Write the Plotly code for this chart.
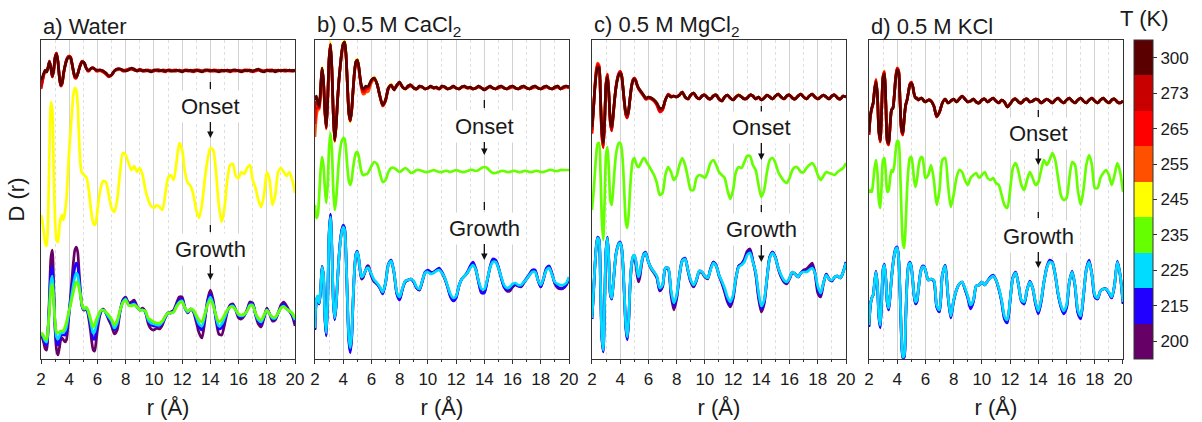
import plotly.graph_objects as go

# ---------------- data (arbitrary D(r) units, curves stacked as in the figure) ----------------
R = [2.0, 2.1, 2.2, 2.3, 2.4, 2.5, 2.6, 2.7, 2.8, 2.9,
     3.0, 3.1, 3.2, 3.3, 3.4, 3.5, 3.6, 3.7, 3.8, 3.9,
     4.0, 4.1, 4.2, 4.3, 4.4, 4.5, 4.6, 4.7, 4.8, 4.9,
     5.0, 5.1, 5.2, 5.3, 5.4, 5.5, 5.6, 5.7, 5.8, 5.9,
     6.0, 6.2, 6.4, 6.6, 6.8, 7.0, 7.2, 7.4, 7.6, 7.8,
     8.0, 8.2, 8.4, 8.6, 8.8, 9.0, 9.2, 9.4, 9.6, 9.8,
     10.0, 10.2, 10.4, 10.6, 10.8, 11.0, 11.2, 11.4, 11.6, 11.8,
     12.0, 12.2, 12.4, 12.6, 12.8, 13.0, 13.2, 13.4, 13.6, 13.8,
     14.0, 14.2, 14.4, 14.6, 14.8, 15.0, 15.2, 15.4, 15.6, 15.8,
     16.0, 16.2, 16.4, 16.6, 16.8, 17.0, 17.2, 17.4, 17.6, 17.8,
     18.0, 18.2, 18.4, 18.6, 18.8, 19.0, 19.2, 19.4, 19.6, 19.8,
     20.0]

TEMPS = ["200", "215", "225", "235", "245", "255", "265", "273", "300"]
X_TICKS = [2, 4, 6, 8, 10, 12, 14, 16, 18, 20]
PANEL_TITLES = ["a) Water", "b) 0.5 M CaCl<sub>2</sub>", "c) 0.5 M MgCl<sub>2</sub>", "d) 0.5 M KCl"]

# ---- a) Water ----
A200 = [24, 21, 16, 10, 9, 29, 64, 101, 109, 74,
        29, 9, 4, 11, 19, 21, 19, 17, 19, 31,
        47, 64, 81, 97, 109, 112, 107, 87, 67, 53,
        49, 49, 51, 47, 39, 29, 17, 9, 8, 17,
        29, 45, 50, 46, 39, 33, 25, 29, 47, 59,
        62, 56, 57, 59, 53, 49, 51, 47, 35, 30,
        29, 31, 30, 34, 41, 46, 47, 49, 56, 62,
        62, 51, 46, 50, 47, 37, 26, 21, 37, 59,
        69, 59, 39, 25, 24, 34, 47, 54, 55, 49,
        41, 40, 43, 49, 57, 56, 44, 35, 32, 41,
        51, 45, 38, 39, 46, 54, 57, 53, 48, 43,
        33]
A215 = [25, 23, 19, 15, 14, 30, 57, 86, 93, 66,
        33, 17, 14, 18, 23, 24, 24, 24, 27, 36,
        48, 60, 72, 83, 92, 96, 93, 79, 65, 54,
        50, 50, 51, 48, 42, 35, 26, 20, 20, 27,
        35, 46, 50, 46, 41, 36, 29, 34, 48, 58,
        61, 55, 55, 57, 52, 49, 50, 47, 38, 34,
        33, 33, 33, 36, 42, 46, 46, 48, 54, 59,
        60, 51, 47, 50, 48, 40, 32, 29, 41, 57,
        65, 56, 41, 30, 31, 39, 48, 53, 54, 49,
        43, 42, 44, 49, 55, 55, 45, 38, 35, 42,
        50, 45, 40, 40, 46, 52, 55, 51, 48, 44,
        37]
A225 = [26, 24, 21, 18, 17, 30, 53, 77, 83, 61,
        35, 22, 20, 23, 26, 26, 27, 28, 32, 40,
        48, 57, 66, 75, 82, 86, 84, 75, 64, 54,
        50, 50, 51, 49, 44, 38, 31, 26, 27, 33,
        38, 47, 49, 46, 42, 38, 31, 36, 48, 57,
        60, 54, 54, 55, 52, 49, 49, 47, 39, 36,
        35, 34, 34, 37, 42, 46, 46, 47, 53, 57,
        58, 51, 47, 50, 48, 42, 35, 33, 43, 55,
        62, 55, 42, 33, 35, 41, 48, 52, 53, 49,
        44, 43, 44, 48, 54, 54, 45, 39, 37, 43,
        49, 45, 41, 41, 46, 51, 53, 50, 48, 45,
        39]
A235 = [26, 25, 23, 20, 20, 31, 49, 69, 75, 57,
        37, 27, 26, 27, 28, 28, 29, 32, 37, 43,
        49, 54, 61, 67, 73, 77, 76, 70, 63, 55,
        51, 51, 52, 50, 46, 41, 36, 32, 34, 39,
        42, 48, 49, 47, 44, 40, 34, 39, 49, 56,
        59, 54, 53, 54, 52, 49, 49, 48, 41, 39,
        37, 36, 36, 38, 43, 46, 46, 47, 52, 56,
        57, 51, 48, 50, 49, 44, 39, 37, 45, 54,
        59, 53, 44, 37, 39, 44, 49, 52, 52, 49,
        45, 44, 45, 48, 53, 53, 46, 41, 39, 44,
        49, 45, 42, 42, 46, 51, 52, 50, 48, 46,
        41]
A245 = [144, 137, 127, 116, 113, 139, 209, 257, 249, 189,
        139, 119, 117, 131, 141, 144, 139, 147, 159, 184,
        209, 229, 249, 265, 271, 269, 254, 219, 194, 186,
        185, 183, 182, 177, 167, 154, 143, 136, 134, 137,
        149, 169, 178, 177, 164, 151, 147, 159, 187, 206,
        204, 196, 189, 193, 187, 191, 184, 169, 159, 153,
        151, 154, 152, 149, 164, 181, 184, 179, 197, 216,
        209, 187, 176, 173, 164, 149, 141, 154, 179, 199,
        211, 209, 187, 154, 137, 151, 179, 194, 195, 183,
        181, 187, 185, 191, 194, 179, 171, 159, 152, 164,
        187, 179, 154, 164, 187, 191, 187, 183, 187, 179,
        166]
A255 = [271, 278, 284, 288, 288, 291, 297, 292, 283, 288,
        301, 305, 298, 283, 274, 276, 285, 292, 298, 301,
        302, 302, 296, 288, 282, 282, 285, 290, 294, 297,
        297, 295, 291, 289, 289, 290, 291, 291, 290, 289,
        288, 288, 287, 286, 283, 284, 288, 289, 290, 289,
        289, 289, 290, 289, 289, 289, 288, 289, 289, 288,
        289, 288, 288, 289, 289, 288, 288, 289, 289, 288,
        288, 289, 288, 288, 289, 289, 288, 288, 289, 288,
        288, 289, 289, 288, 288, 289, 288, 289, 288, 288,
        289, 288, 288, 289, 289, 288, 288, 289, 288, 288,
        289, 289, 288, 288, 289, 288, 289, 289, 288, 288,
        289]
A265 = [270, 277, 284, 288, 288, 292, 298, 292, 282, 288,
        302, 306, 298, 282, 273, 275, 285, 293, 299, 302,
        303, 302, 295, 287, 281, 281, 285, 290, 295, 298,
        297, 295, 291, 288, 288, 290, 291, 291, 290, 288,
        288, 289, 287, 285, 282, 284, 288, 290, 290, 288,
        289, 290, 290, 289, 288, 289, 289, 288, 289, 288,
        288, 289, 289, 288, 288, 289, 288, 289, 288, 289,
        288, 289, 289, 288, 288, 288, 289, 288, 288, 289,
        289, 288, 288, 289, 288, 288, 289, 288, 288, 289,
        288, 288, 289, 289, 288, 288, 288, 289, 289, 288,
        288, 289, 289, 288, 288, 289, 288, 288, 289, 288,
        288]
A273 = [272, 279, 285, 288, 287, 292, 298, 291, 282, 289,
        302, 306, 297, 282, 273, 276, 286, 293, 299, 302,
        303, 301, 295, 287, 282, 281, 285, 290, 295, 297,
        297, 295, 291, 289, 288, 290, 291, 291, 290, 289,
        288, 289, 288, 285, 283, 284, 288, 290, 290, 288,
        288, 290, 290, 289, 288, 290, 288, 288, 289, 288,
        288, 289, 289, 288, 287, 289, 289, 288, 288, 289,
        288, 288, 289, 288, 287, 289, 289, 288, 288, 289,
        288, 288, 289, 288, 288, 289, 288, 287, 289, 288,
        289, 288, 288, 289, 288, 287, 289, 289, 288, 288,
        289, 288, 288, 289, 288, 289, 288, 289, 288, 289,
        288]
A300 = [279, 282, 286, 289, 287, 291, 297, 291, 283, 289,
        301, 305, 297, 283, 274, 277, 286, 293, 298, 301,
        302, 301, 295, 288, 283, 282, 285, 290, 294, 297,
        297, 295, 291, 289, 289, 290, 291, 291, 290, 289,
        289, 289, 288, 286, 283, 284, 288, 290, 290, 289,
        288, 289, 291, 290, 288, 289, 288, 289, 288, 287,
        289, 289, 288, 289, 288, 289, 288, 288, 289, 288,
        287, 289, 288, 289, 288, 289, 288, 287, 289, 289,
        288, 289, 288, 287, 289, 288, 289, 288, 289, 289,
        288, 287, 289, 288, 289, 288, 289, 290, 288, 287,
        289, 288, 289, 287, 289, 288, 289, 288, 289, 288,
        289]

# ---- b) 0.5 M CaCl2 ----
B200 = [30, 58, 62, 55, 68, 92, 83, 42, 24, 58,
        124, 144, 110, 58, 40, 53, 78, 101, 118, 128,
        133, 130, 104, 58, 20, 8, 22, 58, 88, 104,
        107, 100, 88, 80, 81, 85, 89, 93, 93, 88,
        83, 77, 75, 71, 66, 76, 94, 98, 86, 66,
        60, 70, 77, 79, 80, 77, 71, 69, 77, 86,
        88, 86, 87, 89, 90, 86, 80, 72, 63, 59,
        62, 73, 80, 83, 86, 92, 96, 89, 77, 67,
        67, 78, 91, 99, 98, 91, 81, 72, 68, 68,
        72, 74, 73, 72, 76, 80, 84, 88, 88, 79,
        72, 80, 90, 92, 85, 75, 71, 70, 71, 74,
        80]
B215 = [29, 58, 63, 55, 69, 93, 84, 42, 23, 58,
        125, 145, 110, 58, 39, 53, 79, 102, 119, 129,
        134, 131, 104, 57, 18, 6, 20, 57, 89, 105,
        108, 101, 89, 81, 82, 86, 89, 92, 92, 88,
        84, 78, 75, 71, 65, 76, 95, 99, 87, 65,
        59, 70, 78, 79, 80, 77, 71, 69, 78, 87,
        89, 87, 86, 89, 91, 87, 81, 72, 62, 58,
        61, 73, 80, 83, 87, 93, 97, 90, 76, 66,
        66, 78, 92, 100, 99, 92, 81, 72, 69, 70,
        73, 75, 73, 73, 77, 81, 85, 89, 89, 79,
        72, 81, 91, 93, 85, 76, 72, 71, 71, 74,
        81]
B225 = [31, 59, 63, 56, 69, 92, 84, 44, 26, 59,
        124, 142, 109, 59, 41, 54, 79, 101, 117, 127,
        132, 129, 104, 59, 22, 11, 24, 59, 89, 104,
        107, 101, 89, 82, 83, 86, 89, 91, 91, 88,
        85, 79, 76, 72, 67, 76, 94, 98, 87, 67,
        62, 71, 78, 79, 80, 78, 72, 70, 78, 86,
        87, 85, 86, 88, 89, 86, 81, 73, 65, 61,
        63, 73, 80, 83, 86, 91, 94, 89, 78, 70,
        70, 79, 91, 97, 97, 91, 82, 74, 71, 72,
        75, 76, 74, 74, 77, 80, 84, 87, 87, 79,
        74, 81, 89, 91, 84, 77, 75, 74, 74, 76,
        82]
B235 = [154, 141, 144, 164, 189, 202, 194, 171, 156, 174,
        211, 226, 209, 169, 149, 159, 179, 199, 211, 218,
        221, 220, 209, 191, 178, 174, 179, 191, 200, 206,
        207, 203, 194, 187, 184, 184, 185, 185, 187, 190,
        193, 197, 195, 186, 177, 179, 187, 191, 191, 189,
        187, 189, 191, 189, 186, 187, 189, 189, 188, 187,
        187, 188, 189, 188, 187, 187, 188, 188, 187, 188,
        189, 188, 187, 187, 188, 189, 189, 188, 189, 191,
        192, 191, 188, 186, 186, 187, 188, 188, 187, 187,
        188, 188, 187, 187, 188, 188, 187, 187, 188, 188,
        187, 187, 188, 189, 189, 188, 188, 189, 189, 189,
        189]
B245 = [240, 252, 253, 252, 270, 292, 280, 248, 230, 258,
        301, 317, 290, 244, 217, 233, 258, 279, 295, 308,
        316, 318, 305, 274, 245, 237, 248, 268, 287, 298,
        300, 293, 281, 272, 269, 270, 272, 272, 273, 276,
        279, 282, 275, 263, 253, 259, 271, 275, 270, 274,
        277, 272, 270, 273, 274, 271, 270, 273, 272, 270,
        271, 273, 271, 272, 270, 273, 272, 270, 271, 273,
        271, 270, 272, 273, 271, 272, 270, 271, 273, 271,
        269, 271, 273, 271, 270, 272, 273, 271, 270, 272,
        273, 271, 270, 272, 273, 271, 270, 272, 273, 271,
        270, 272, 273, 271, 270, 272, 273, 270, 272, 273,
        272]
B255 = [222, 242, 249, 250, 268, 289, 278, 248, 230, 258,
        299, 314, 290, 245, 218, 233, 258, 278, 293, 306,
        314, 316, 304, 275, 247, 238, 248, 268, 286, 296,
        298, 291, 279, 270, 265, 265, 267, 267, 268, 272,
        276, 280, 275, 263, 253, 258, 270, 273, 270, 273,
        276, 272, 270, 272, 273, 271, 270, 272, 272, 270,
        271, 272, 271, 271, 270, 272, 272, 270, 271, 272,
        271, 270, 272, 272, 271, 271, 270, 271, 272, 271,
        270, 271, 272, 271, 270, 271, 272, 271, 270, 271,
        272, 271, 270, 271, 272, 271, 270, 271, 272, 271,
        270, 271, 272, 271, 270, 271, 272, 270, 271, 272,
        271]
B265 = [235, 250, 252, 251, 269, 290, 279, 249, 231, 258,
        300, 315, 290, 244, 218, 233, 258, 279, 294, 307,
        315, 317, 304, 275, 246, 238, 248, 268, 287, 297,
        299, 292, 280, 271, 267, 267, 269, 270, 271, 275,
        278, 280, 275, 263, 253, 258, 270, 274, 270, 273,
        276, 272, 270, 272, 273, 271, 270, 272, 272, 270,
        271, 272, 271, 271, 270, 272, 272, 270, 271, 272,
        271, 270, 272, 272, 271, 271, 270, 271, 272, 271,
        270, 271, 272, 271, 270, 271, 272, 271, 270, 271,
        272, 271, 270, 271, 272, 271, 270, 271, 272, 271,
        270, 271, 272, 271, 270, 271, 272, 270, 271, 272,
        271]
B273 = [250, 258, 255, 252, 270, 291, 279, 249, 231, 259,
        300, 315, 289, 244, 218, 234, 259, 279, 294, 307,
        315, 317, 304, 274, 246, 238, 249, 269, 287, 297,
        299, 293, 281, 272, 269, 270, 272, 272, 273, 276,
        279, 281, 275, 263, 254, 259, 271, 274, 269, 274,
        277, 272, 270, 273, 274, 271, 270, 273, 272, 270,
        271, 273, 271, 272, 270, 273, 272, 270, 271, 273,
        271, 270, 272, 273, 271, 272, 270, 271, 273, 271,
        269, 271, 273, 271, 270, 272, 273, 271, 270, 272,
        273, 271, 270, 272, 273, 271, 270, 272, 273, 271,
        270, 272, 273, 271, 270, 272, 273, 270, 272, 273,
        272]
B300 = [259, 263, 257, 253, 271, 291, 279, 249, 232, 259,
        299, 314, 289, 244, 219, 234, 259, 279, 294, 307,
        315, 317, 304, 274, 247, 239, 249, 269, 287, 297,
        299, 293, 281, 273, 270, 271, 273, 272, 273, 276,
        279, 281, 275, 263, 254, 259, 271, 274, 269, 274,
        277, 272, 270, 273, 274, 271, 270, 273, 272, 270,
        271, 273, 271, 272, 270, 273, 272, 270, 271, 273,
        271, 270, 272, 273, 271, 272, 270, 271, 273, 271,
        269, 271, 273, 271, 270, 272, 273, 271, 270, 272,
        273, 271, 270, 272, 273, 271, 270, 272, 273, 271,
        270, 272, 273, 271, 270, 272, 273, 270, 272, 273,
        272]

# ---- c) 0.5 M MgCl2 ----
C200 = [40, 63, 90, 111, 121, 119, 78, 22, 8, 58,
        109, 121, 97, 65, 60, 73, 90, 104, 111, 115,
        116, 111, 93, 62, 32, 20, 37, 72, 92, 100,
        101, 95, 84, 77, 82, 93, 101, 105, 106, 102,
        97, 90, 86, 81, 68, 72, 90, 90, 64, 49,
        60, 83, 98, 100, 88, 77, 72, 78, 87, 86,
        82, 80, 90, 97, 93, 83, 76, 67, 57, 52,
        60, 80, 93, 95, 100, 108, 110, 98, 85, 61,
        47, 55, 80, 102, 107, 101, 90, 82, 77, 75,
        80, 86, 85, 82, 86, 89, 90, 93, 96, 86,
        66, 62, 75, 85, 80, 78, 82, 83, 81, 87,
        97]
C215 = [40, 63, 91, 112, 122, 120, 78, 22, 7, 58,
        110, 122, 97, 65, 60, 74, 91, 105, 112, 116,
        117, 112, 94, 62, 31, 19, 37, 73, 94, 102,
        104, 99, 88, 80, 85, 95, 102, 106, 107, 103,
        97, 91, 87, 82, 69, 73, 91, 91, 67, 53,
        62, 84, 99, 101, 89, 78, 73, 79, 88, 87,
        83, 81, 90, 97, 94, 84, 77, 69, 59, 54,
        62, 81, 93, 95, 99, 106, 108, 98, 86, 64,
        50, 57, 81, 102, 107, 102, 91, 83, 78, 76,
        81, 87, 85, 82, 86, 88, 88, 90, 93, 86,
        70, 64, 76, 85, 80, 78, 82, 83, 81, 87,
        97]
C225 = [41, 64, 91, 111, 121, 119, 79, 24, 9, 59,
        109, 121, 97, 66, 61, 74, 91, 104, 111, 115,
        116, 111, 94, 64, 34, 22, 39, 74, 94, 102,
        104, 99, 89, 82, 87, 96, 102, 105, 106, 102,
        97, 91, 87, 83, 71, 74, 91, 91, 69, 56,
        64, 84, 98, 100, 89, 79, 74, 79, 88, 87,
        83, 81, 89, 96, 93, 84, 78, 71, 62, 57,
        64, 81, 92, 94, 97, 104, 106, 97, 87, 67,
        53, 59, 81, 101, 106, 101, 91, 84, 79, 77,
        81, 87, 85, 82, 86, 87, 87, 89, 91, 86,
        73, 66, 76, 84, 80, 79, 82, 83, 81, 87,
        96]
C235 = [149, 164, 184, 204, 215, 216, 189, 139, 119, 159,
        204, 212, 189, 159, 154, 169, 189, 204, 212, 216,
        216, 211, 194, 164, 137, 131, 144, 169, 189, 199,
        201, 197, 193, 192, 194, 197, 200, 201, 199, 196,
        194, 189, 184, 176, 164, 166, 184, 192, 187, 179,
        183, 194, 201, 194, 181, 169, 169, 181, 184, 183,
        181, 187, 196, 199, 194, 187, 184, 181, 169, 160,
        169, 187, 192, 191, 197, 203, 203, 194, 189, 174,
        162, 169, 187, 199, 201, 196, 187, 182, 178, 176,
        181, 189, 192, 191, 187, 187, 191, 194, 196, 192,
        184, 179, 183, 187, 186, 185, 184, 187, 189, 191,
        196]
C245 = [230, 248, 270, 286, 292, 292, 264, 228, 215, 239,
        276, 285, 266, 239, 231, 243, 259, 271, 279, 284,
        286, 283, 271, 257, 246, 243, 249, 261, 272, 278,
        280, 278, 274, 271, 269, 267, 265, 263, 261, 261,
        262, 261, 259, 256, 251, 251, 259, 264, 262, 263,
        262, 264, 267, 262, 260, 264, 266, 262, 260, 263,
        264, 261, 260, 263, 264, 260, 258, 262, 264, 261,
        259, 262, 265, 262, 260, 261, 264, 263, 260, 262,
        259, 261, 264, 262, 260, 263, 265, 262, 260, 263,
        264, 261, 260, 263, 265, 262, 260, 263, 265, 262,
        260, 262, 264, 262, 260, 263, 264, 261, 260, 263,
        262]
C255 = [225, 247, 272, 289, 296, 294, 262, 222, 212, 237,
        276, 285, 266, 237, 229, 242, 258, 271, 280, 285,
        287, 284, 271, 256, 245, 242, 248, 260, 272, 279,
        281, 279, 274, 270, 268, 266, 264, 262, 260, 260,
        261, 260, 258, 254, 248, 249, 259, 264, 262, 263,
        262, 264, 267, 262, 260, 264, 266, 262, 260, 263,
        264, 261, 260, 263, 264, 260, 258, 262, 264, 261,
        259, 262, 264, 262, 260, 261, 264, 263, 260, 262,
        259, 261, 264, 262, 260, 263, 265, 262, 260, 263,
        264, 261, 260, 263, 265, 262, 260, 263, 265, 262,
        260, 262, 264, 262, 260, 263, 264, 261, 260, 263,
        262]
C265 = [226, 247, 271, 288, 295, 293, 262, 223, 211, 237,
        276, 285, 265, 236, 228, 242, 258, 272, 281, 286,
        288, 284, 271, 255, 244, 241, 248, 261, 273, 279,
        281, 279, 274, 270, 268, 266, 264, 262, 260, 260,
        261, 260, 258, 254, 247, 249, 259, 265, 263, 263,
        262, 264, 267, 262, 260, 264, 266, 262, 260, 263,
        264, 261, 260, 263, 264, 260, 258, 262, 264, 261,
        259, 262, 264, 262, 260, 261, 264, 263, 260, 262,
        259, 261, 264, 262, 260, 263, 265, 262, 260, 263,
        264, 261, 260, 263, 265, 262, 260, 263, 265, 262,
        260, 262, 264, 262, 260, 263, 264, 261, 260, 263,
        262]
C273 = [229, 248, 270, 286, 293, 292, 263, 226, 213, 238,
        275, 284, 265, 237, 229, 243, 259, 272, 280, 285,
        287, 284, 271, 256, 245, 242, 248, 261, 272, 279,
        281, 279, 274, 271, 269, 267, 265, 263, 261, 261,
        262, 261, 259, 255, 249, 250, 259, 264, 262, 263,
        262, 264, 267, 262, 260, 264, 266, 262, 260, 263,
        264, 261, 260, 263, 264, 260, 258, 262, 264, 261,
        259, 262, 264, 262, 260, 261, 264, 263, 260, 262,
        259, 261, 264, 262, 260, 263, 265, 262, 260, 263,
        264, 261, 260, 263, 265, 262, 260, 263, 265, 262,
        260, 262, 264, 262, 260, 263, 264, 261, 260, 263,
        262]
C300 = [232, 249, 269, 284, 291, 291, 264, 229, 216, 239,
        274, 282, 264, 239, 232, 244, 259, 271, 279, 284,
        286, 283, 271, 257, 247, 244, 249, 261, 272, 278,
        280, 278, 274, 271, 269, 267, 265, 263, 261, 261,
        262, 261, 259, 256, 251, 251, 259, 264, 262, 263,
        262, 264, 267, 262, 260, 264, 266, 262, 260, 263,
        264, 261, 260, 263, 264, 260, 258, 262, 264, 261,
        259, 262, 264, 262, 260, 261, 264, 263, 260, 262,
        259, 261, 264, 262, 260, 263, 265, 262, 260, 263,
        264, 261, 260, 263, 265, 262, 260, 263, 265, 262,
        260, 262, 264, 262, 260, 263, 264, 261, 260, 263,
        262]

# ---- d) 0.5 M KCl ----
D200 = [33, 53, 61, 64, 77, 87, 74, 43, 32, 58,
        89, 94, 79, 56, 50, 63, 81, 94, 104, 110,
        111, 101, 68, 23, 1, 3, 38, 77, 93, 96,
        92, 79, 63, 56, 58, 69, 81, 89, 92, 92,
        89, 79, 80, 78, 53, 48, 84, 93, 63, 42,
        58, 69, 75, 77, 70, 62, 52, 58, 73, 74,
        77, 74, 78, 81, 83, 79, 70, 58, 41, 37,
        58, 81, 86, 74, 58, 56, 69, 77, 71, 56,
        46, 58, 77, 91, 98, 96, 84, 65, 53, 46,
        52, 77, 87, 73, 47, 41, 63, 89, 98, 84,
        63, 60, 68, 70, 70, 66, 61, 74, 97, 84,
        56]
D215 = [32, 53, 61, 64, 77, 88, 74, 42, 31, 58,
        90, 95, 79, 56, 49, 63, 81, 95, 105, 111,
        112, 102, 68, 22, 1, 2, 38, 77, 94, 97,
        93, 79, 63, 55, 57, 69, 82, 90, 93, 93,
        89, 79, 80, 78, 52, 47, 84, 94, 63, 41,
        58, 69, 75, 77, 70, 61, 50, 57, 73, 74,
        77, 74, 78, 82, 84, 79, 70, 57, 40, 36,
        58, 82, 87, 74, 58, 55, 69, 78, 71, 55,
        45, 57, 77, 92, 99, 97, 84, 65, 52, 45,
        51, 77, 88, 73, 46, 40, 63, 90, 99, 84,
        62, 60, 68, 70, 70, 66, 61, 74, 98, 84,
        55]
D225 = [34, 54, 61, 64, 77, 87, 74, 44, 34, 59,
        89, 94, 79, 57, 51, 64, 81, 94, 104, 110,
        111, 101, 69, 24, 2, 4, 39, 77, 93, 96,
        92, 79, 64, 57, 59, 69, 81, 89, 92, 92,
        89, 79, 80, 79, 54, 49, 84, 93, 64, 43,
        59, 69, 75, 77, 71, 63, 54, 59, 73, 74,
        77, 74, 78, 81, 83, 79, 71, 59, 43, 39,
        59, 81, 86, 74, 59, 57, 69, 77, 71, 57,
        48, 59, 77, 91, 97, 96, 84, 66, 54, 48,
        54, 77, 87, 74, 49, 43, 64, 89, 97, 84,
        64, 61, 68, 70, 70, 67, 62, 74, 97, 84,
        57]
D235 = [166, 169, 167, 177, 191, 199, 187, 159, 151, 174,
        199, 201, 184, 167, 169, 181, 189, 187, 194, 209,
        218, 217, 194, 149, 117, 111, 134, 169, 191, 201,
        202, 194, 179, 172, 179, 191, 199, 202, 201, 191,
        181, 184, 194, 179, 154, 169, 199, 201, 174, 152,
        164, 181, 189, 187, 179, 174, 181, 184, 186, 181,
        184, 187, 181, 179, 181, 176, 174, 164, 154, 151,
        169, 191, 196, 187, 174, 169, 179, 187, 181, 174,
        177, 189, 199, 194, 199, 206, 199, 181, 164, 159,
        161, 181, 197, 194, 169, 154, 169, 194, 204, 194,
        171, 171, 181, 186, 189, 184, 174, 184, 196, 187,
        167]
D245 = [226, 243, 251, 256, 270, 279, 264, 228, 218, 249,
        282, 287, 254, 218, 215, 234, 249, 251, 264, 282,
        290, 288, 259, 230, 225, 241, 254, 259, 267, 274,
        276, 273, 265, 261, 261, 259, 260, 261, 260, 258,
        257, 259, 258, 253, 243, 247, 256, 260, 256, 258,
        260, 257, 260, 263, 260, 257, 258, 260, 257, 256,
        259, 260, 257, 259, 261, 258, 256, 259, 257, 252,
        255, 259, 260, 257, 256, 259, 260, 257, 258, 260,
        259, 256, 258, 260, 258, 256, 259, 261, 258, 256,
        259, 261, 258, 256, 259, 261, 258, 256, 259, 261,
        258, 256, 259, 261, 258, 256, 259, 260, 257, 256,
        258]
D255 = [224, 242, 250, 255, 270, 280, 264, 227, 217, 249,
        283, 288, 254, 217, 214, 233, 249, 251, 265, 283,
        291, 289, 259, 229, 224, 240, 253, 259, 267, 275,
        277, 273, 265, 261, 260, 259, 260, 261, 260, 258,
        257, 259, 258, 253, 242, 247, 256, 260, 256, 258,
        260, 257, 260, 263, 260, 257, 258, 260, 257, 256,
        259, 260, 257, 259, 261, 258, 256, 259, 257, 252,
        255, 259, 260, 257, 256, 259, 260, 257, 258, 260,
        259, 256, 258, 260, 258, 256, 259, 261, 258, 256,
        259, 261, 258, 256, 259, 261, 258, 256, 259, 261,
        258, 256, 259, 261, 258, 256, 259, 260, 257, 256,
        258]
D265 = [224, 242, 250, 256, 270, 279, 264, 227, 217, 249,
        283, 287, 254, 217, 214, 233, 249, 251, 265, 283,
        291, 288, 259, 229, 224, 240, 254, 259, 267, 275,
        277, 273, 265, 261, 260, 259, 260, 261, 260, 258,
        257, 259, 258, 253, 242, 247, 256, 260, 256, 258,
        260, 257, 260, 263, 260, 257, 258, 260, 257, 256,
        259, 260, 257, 259, 261, 258, 256, 259, 257, 252,
        255, 259, 260, 257, 256, 259, 260, 257, 258, 260,
        259, 256, 258, 260, 258, 256, 259, 261, 258, 256,
        259, 261, 258, 256, 259, 261, 258, 256, 259, 261,
        258, 256, 259, 261, 258, 256, 259, 260, 257, 256,
        258]
D273 = [225, 243, 251, 256, 270, 278, 264, 228, 218, 249,
        282, 286, 254, 218, 215, 234, 249, 251, 264, 282,
        290, 288, 259, 230, 225, 241, 254, 259, 267, 274,
        276, 273, 265, 261, 261, 259, 260, 261, 260, 258,
        257, 259, 258, 253, 242, 247, 256, 260, 256, 258,
        260, 257, 260, 263, 260, 257, 258, 260, 257, 256,
        259, 260, 257, 259, 261, 258, 256, 259, 257, 252,
        255, 259, 260, 257, 256, 259, 260, 257, 258, 260,
        259, 256, 258, 260, 258, 256, 259, 261, 258, 256,
        259, 261, 258, 256, 259, 261, 258, 256, 259, 261,
        258, 256, 259, 261, 258, 256, 259, 260, 257, 256,
        258]
D300 = [227, 244, 251, 256, 269, 277, 264, 229, 219, 249,
        281, 285, 254, 219, 216, 234, 249, 251, 264, 281,
        289, 287, 259, 231, 226, 241, 254, 259, 267, 274,
        276, 273, 265, 261, 261, 259, 260, 261, 260, 258,
        257, 259, 258, 253, 243, 247, 256, 260, 256, 258,
        260, 257, 260, 263, 260, 257, 258, 260, 257, 256,
        259, 260, 257, 259, 261, 258, 256, 259, 257, 252,
        255, 259, 260, 257, 256, 259, 260, 257, 258, 260,
        259, 256, 258, 260, 258, 256, 259, 261, 258, 256,
        259, 261, 258, 256, 259, 261, 258, 256, 259, 261,
        258, 256, 259, 261, 258, 256, 259, 260, 257, 256,
        258]

PANEL_SERIES = [
    [A200, A215, A225, A235, A245, A255, A265, A273, A300],
    [B200, B215, B225, B235, B245, B255, B265, B273, B300],
    [C200, C215, C225, C235, C245, C255, C265, C273, C300],
    [D200, D215, D225, D235, D245, D255, D265, D273, D300],
]

# ---------------- styling ----------------
COLORS = ["#660066", "#2200ff", "#00dcff", "#66ff00", "#ffff00",
          "#ff5000", "#ff0000", "#c80000", "#5a0000"]
FONT = "Liberation Sans, Arial, sans-serif"
TXT = "#1a1a1a"
W, H = 1202, 422
ML, MR, MT, MB = 41, 75, 40, 63
PW, PH = W - ML - MR, H - MT - MB
DOMAINS = [(0.0, 0.2348), (0.2532, 0.4880), (0.5092, 0.7440), (0.7652, 1.0)]
Y_RANGE = [0, 319]

# annotation placements per panel (Onset / Growth): dash top, dash bottom, text centre, arrow tip
MARKS = [
    dict(on=(277, 270, 253, 221), gr=(134, 127, 110, 79)),
    dict(on=(259, 251, 233, 204), gr=(157, 149, 131, 99)),
    dict(on=(253, 246, 232, 199), gr=(154, 147, 130, 97)),
    dict(on=(249, 242, 226, 194), gr=(147, 141, 123, 91)),
]

fig = go.Figure()
annotations = []
shapes = []

for i, series in enumerate(PANEL_SERIES):
    xa = "x" if i == 0 else f"x{i + 1}"
    ya = "y" if i == 0 else f"y{i + 1}"
    for t, vals, col in zip(TEMPS, series, COLORS):
        fig.add_trace(go.Scatter(
            x=R, y=vals, xaxis=xa, yaxis=ya, mode="lines",
            line=dict(color=col, width=2.7, shape="spline", smoothing=0.7),
            name=f"{t} K", showlegend=False, hoverinfo="skip"))

    ax_key = "xaxis" if i == 0 else f"xaxis{i + 1}"
    ay_key = "yaxis" if i == 0 else f"yaxis{i + 1}"
    y_title = dict(text="D (r)", standoff=9,
                   font=dict(family=FONT, size=22, color=TXT)) if i == 0 else None
    yax = dict(domain=[0, 1], anchor=xa, range=Y_RANGE, showticklabels=False,
               ticks="", showgrid=False, zeroline=False, automargin=False,
               showline=True, mirror=True, linecolor="#333", linewidth=1.3)
    if y_title:
        yax["title"] = y_title
    fig.update_layout(**{
        ax_key: dict(domain=list(DOMAINS[i]), anchor=ya, range=[2, 20],
                     tickmode="array", tickvals=X_TICKS, ticks="outside", ticklen=4,
                     tickwidth=1, tickcolor="#333", automargin=False,
                     title=dict(text="r (Å)", standoff=12,
                                font=dict(family=FONT, size=22, color=TXT)),
                     showline=True, mirror=True, linecolor="#333", linewidth=1.3,
                     showgrid=True, gridcolor="#d2d2d2", gridwidth=1, zeroline=False,
                     tickfont=dict(family=FONT, size=17, color=TXT),
                     minor=dict(dtick=1, tick0=1, ticks="outside", ticklen=2,
                                tickcolor="#333", showgrid=True,
                                gridcolor="#dedede", griddash="dot")),
        ay_key: yax,
    })

    d0, d1 = DOMAINS[i]
    annotations.append(dict(text=PANEL_TITLES[i], xref="paper", yref="paper",
                            x=d0, y=1 + (MT - 26) / PH, xanchor="left", yanchor="middle",
                            showarrow=False, font=dict(family=FONT, size=22, color=TXT)))

    for key, label in (("on", "Onset"), ("gr", "Growth")):
        top, bot, txt_y, tip = MARKS[i][key]
        shapes.append(dict(type="line", xref=xa, yref=ya, x0=14, x1=14, y0=top, y1=bot,
                           line=dict(color="#111", width=1.3), layer="above"))
        # label with its downward arrow (arrow starts at the label box, ends at the tip)
        annotations.append(dict(text=label, xref=xa, yref=ya, x=14, y=tip,
                                ax=0, ay=-(txt_y - tip) * PH / (Y_RANGE[1] - Y_RANGE[0]),
                                showarrow=True, arrowhead=2, arrowsize=1,
                                arrowwidth=1.3, arrowcolor="#111", standoff=0,
                                bgcolor="white", borderpad=3,
                                font=dict(family=FONT, size=22, color=TXT)))

# colour-bar title
annotations.append(dict(text="T (K)", xref="paper", yref="paper",
                        x=(1148 - ML) / PW, y=1 + (MT - 18) / PH,
                        xanchor="center", yanchor="middle", showarrow=False,
                        font=dict(family=FONT, size=22, color=TXT)))

# discrete colour bar
n = len(COLORS)
cscale = []
for k, c in enumerate(COLORS):
    cscale.append([k / n, c])
    cscale.append([(k + 1) / n, c])
fig.add_trace(go.Scatter(
    x=[None], y=[None], mode="markers", showlegend=False, hoverinfo="skip",
    marker=dict(color=[0], cmin=0, cmax=n, colorscale=cscale, showscale=True,
                colorbar=dict(x=(1138 - ML) / PW, xanchor="left", xpad=0, ypad=0,
                              y=0.5, yanchor="middle", len=1, lenmode="fraction",
                              thickness=19, thicknessmode="pixels",
                              tickmode="array", tickvals=[k + 0.5 for k in range(n)],
                              ticktext=TEMPS, ticks="outside", ticklen=4,
                              tickcolor="#333", outlinewidth=1, outlinecolor="#333",
                              tickfont=dict(family=FONT, size=17, color=TXT)))))

fig.update_layout(
    width=W, height=H, margin=dict(l=ML, r=MR, t=MT, b=MB),
    paper_bgcolor="white", plot_bgcolor="white", showlegend=False,
    annotations=annotations, shapes=shapes,
    font=dict(family=FONT, color=TXT),
)

fig.write_html("out.html")
